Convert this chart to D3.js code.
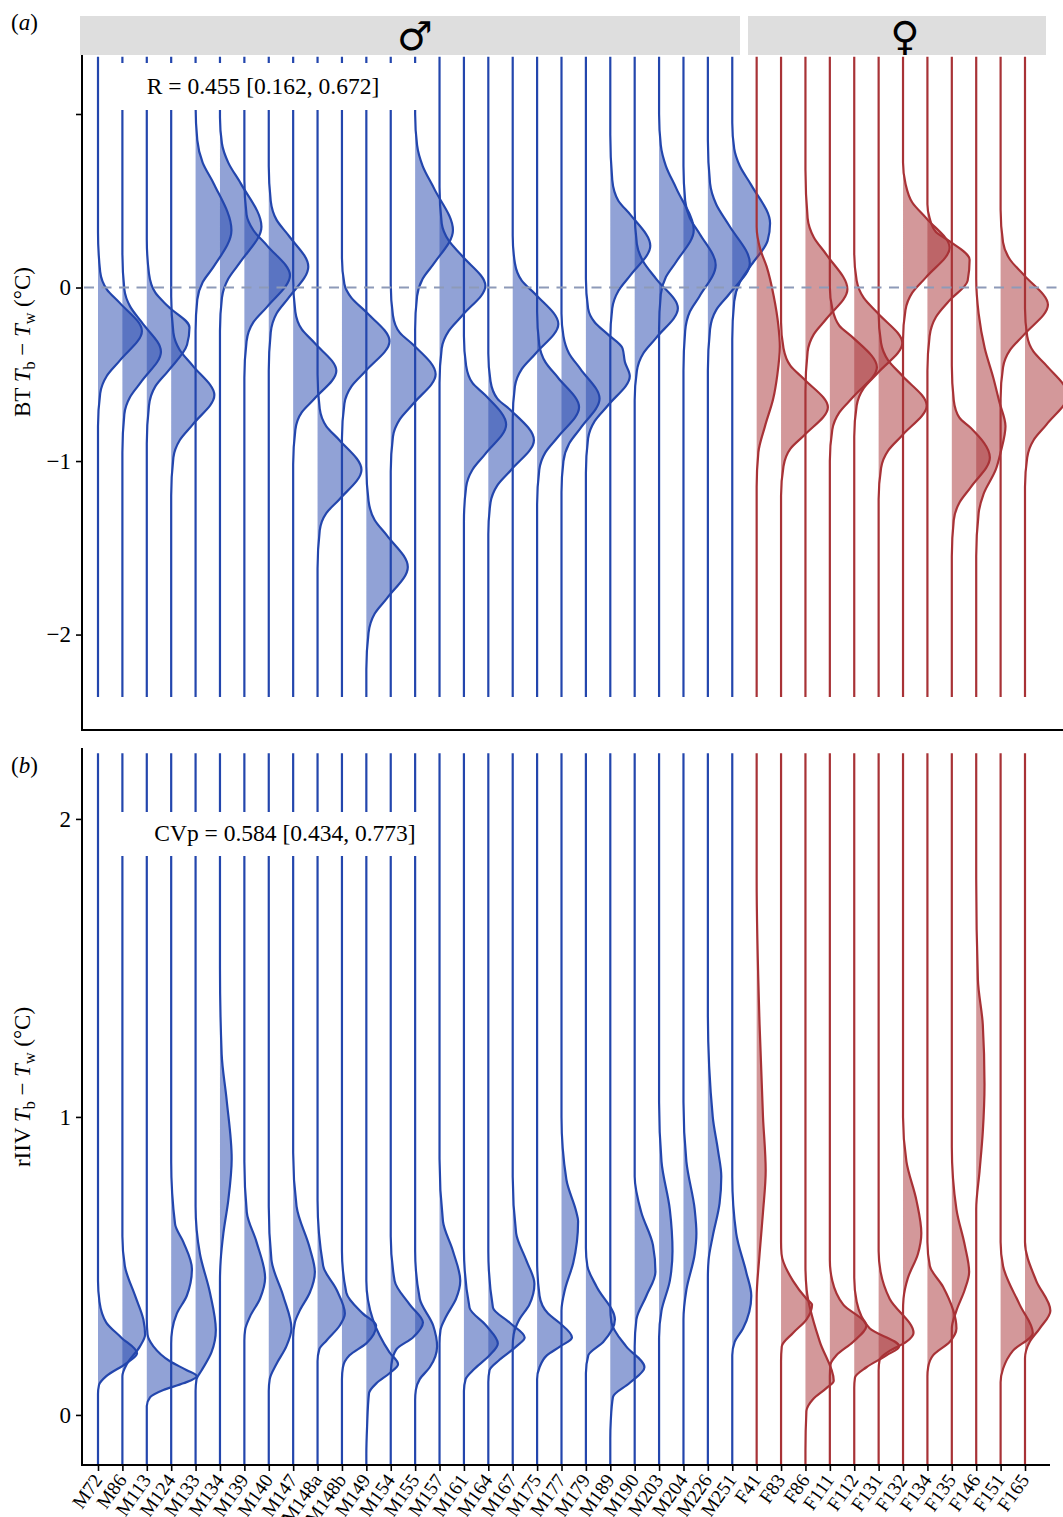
<!DOCTYPE html>
<html>
<head>
<meta charset="utf-8">
<script src="https://cdn.jsdelivr.net/npm/d3@7"></script>
<style>
  body { margin: 0; background: #fff; }
  svg { display: block; }
  text { font-family: "Liberation Serif", "Times New Roman", serif; fill: #000; }
</style>
</head>
<body>
<script>
// individuals, left to right
const males = ["M72","M86","M113","M124","M133","M134","M139","M140","M147","M148a","M148b","M149",
  "M154","M155","M157","M161","M164","M167","M175","M177","M179","M189","M190","M203","M204","M226","M251"];
const females = ["F41","F83","F86","F111","F112","F131","F132","F134","F135","F146","F151","F165"];
const individuals = males.concat(females);

// (a) BT Tb - Tw : density outline per individual, [value, density]
const btDens = [
  [[0.32,0],[0.09,0.09],[-0.01,0.36],[-0.09,0.9],[-0.25,1.8],[-0.42,0.9],[-0.51,0.36],[-0.61,0.09],[-0.8,0]],
  [[0.2,0],[-0.01,0.08],[-0.11,0.32],[-0.2,0.79],[-0.37,1.58],[-0.54,0.79],[-0.63,0.32],[-0.73,0.08],[-0.95,0]],
  [[0.28,0],[0.08,0.09],[-0.03,0.35],[-0.11,0.88],[-0.23,1.75],[-0.33,1.65],[-0.48,0.88],[-0.57,0.35],[-0.68,0.09],[-0.9,0]],
  [[-0.05,0],[-0.26,0.09],[-0.36,0.35],[-0.45,0.88],[-0.62,1.77],[-0.79,0.88],[-0.88,0.35],[-0.98,0.09],[-1.2,0]],
  [[1.05,0],[0.85,0.07],[0.72,0.29],[0.6,0.74],[0.33,1.47],[0.12,0.74],[0.03,0.29],[-0.07,0.07],[-0.25,0]],
  [[0.98,0],[0.83,0.08],[0.72,0.34],[0.6,0.85],[0.35,1.7],[0.15,0.85],[0.05,0.34],[-0.06,0.08],[-0.25,0]],
  [[0.62,0],[0.42,0.09],[0.33,0.37],[0.24,0.94],[0.07,1.87],[-0.11,0.94],[-0.2,0.37],[-0.31,0.09],[-0.52,0]],
  [[0.7,0],[0.5,0.08],[0.39,0.32],[0.3,0.81],[0.12,1.62],[-0.06,0.81],[-0.15,0.32],[-0.26,0.08],[-0.48,0]],
  [[0.05,0],[-0.14,0.09],[-0.24,0.35],[-0.32,0.88],[-0.48,1.77],[-0.64,0.88],[-0.72,0.35],[-0.82,0.09],[-1.02,0]],
  [[-0.5,0],[-0.7,0.09],[-0.8,0.36],[-0.88,0.9],[-1.05,1.8],[-1.22,0.9],[-1.3,0.36],[-1.4,0.09],[-1.62,0]],
  [[0.17,0],[0.02,0.1],[-0.06,0.39],[-0.14,0.98],[-0.31,1.95],[-0.48,0.98],[-0.57,0.39],[-0.67,0.1],[-0.87,0]],
  [[-1.03,0],[-1.23,0.09],[-1.34,0.34],[-1.43,0.85],[-1.61,1.7],[-1.79,0.85],[-1.88,0.34],[-1.99,0.09],[-2.2,0]],
  [[0.02,0],[-0.16,0.09],[-0.26,0.37],[-0.33,0.92],[-0.5,1.84],[-0.67,0.92],[-0.76,0.37],[-0.86,0.09],[-1.06,0]],
  [[1.0,0],[0.82,0.08],[0.7,0.31],[0.57,0.78],[0.33,1.55],[0.14,0.78],[0.05,0.31],[-0.05,0.08],[-0.24,0]],
  [[0.58,0],[0.37,0.09],[0.27,0.38],[0.18,0.94],[0.01,1.88],[-0.16,0.94],[-0.25,0.38],[-0.35,0.09],[-0.55,0]],
  [[-0.28,0],[-0.45,0.09],[-0.55,0.35],[-0.62,0.87],[-0.79,1.73],[-0.96,0.87],[-1.05,0.35],[-1.15,0.09],[-1.35,0]],
  [[-0.38,0],[-0.54,0.09],[-0.64,0.37],[-0.71,0.94],[-0.88,1.87],[-1.05,0.94],[-1.14,0.37],[-1.24,0.09],[-1.42,0]],
  [[0.3,0],[0.14,0.09],[0.04,0.37],[-0.04,0.94],[-0.21,1.87],[-0.38,0.94],[-0.47,0.37],[-0.57,0.09],[-0.76,0]],
  [[-0.14,0],[-0.33,0.09],[-0.43,0.34],[-0.52,0.86],[-0.69,1.72],[-0.86,0.86],[-0.95,0.34],[-1.05,0.09],[-1.25,0]],
  [[-0.15,0],[-0.28,0.08],[-0.38,0.31],[-0.47,0.78],[-0.64,1.56],[-0.81,0.78],[-0.9,0.31],[-1.0,0.08],[-1.18,0]],
  [[0.05,0],[-0.12,0.09],[-0.2,0.36],[-0.27,0.9],[-0.35,1.5],[-0.43,1.6],[-0.51,1.8],[-0.68,0.9],[-0.77,0.36],[-0.87,0.09],[-1.07,0]],
  [[0.88,0],[0.62,0.08],[0.5,0.33],[0.42,0.82],[0.24,1.64],[0.07,0.82],[-0.02,0.33],[-0.12,0.08],[-0.3,0]],
  [[0.45,0],[0.25,0.09],[0.15,0.35],[0.05,0.88],[-0.12,1.77],[-0.29,0.88],[-0.38,0.35],[-0.48,0.09],[-0.65,0]],
  [[1.0,0],[0.82,0.07],[0.7,0.28],[0.57,0.71],[0.33,1.42],[0.15,0.71],[0.06,0.28],[-0.04,0.07],[-0.24,0]],
  [[0.7,0],[0.5,0.07],[0.4,0.26],[0.31,0.66],[0.13,1.32],[-0.05,0.66],[-0.14,0.26],[-0.25,0.07],[-0.48,0]],
  [[0.85,0],[0.6,0.09],[0.48,0.34],[0.36,0.86],[0.14,1.72],[-0.04,0.86],[-0.13,0.34],[-0.24,0.09],[-0.48,0]],
  [[0.95,0],[0.8,0.08],[0.7,0.31],[0.59,0.78],[0.37,1.55],[0.27,1.45],[0.13,0.78],[0.03,0.31],[-0.08,0.08],[-0.3,0]],
  [[0.35,0],[0.22,0.15],[0.12,0.41],[-0.05,0.7],[-0.22,0.89],[-0.34,0.95],[-0.5,0.85],[-0.64,0.68],[-0.8,0.34],[-0.95,0.07],[-1.15,0]],
  [[-0.2,0],[-0.35,0.1],[-0.45,0.38],[-0.53,0.96],[-0.69,1.92],[-0.85,0.96],[-0.93,0.38],[-1.03,0.1],[-1.2,0]],
  [[0.68,0],[0.4,0.09],[0.29,0.34],[0.19,0.86],[-0.01,1.72],[-0.18,0.86],[-0.27,0.34],[-0.37,0.09],[-0.6,0]],
  [[0.0,0],[-0.12,0.1],[-0.22,0.39],[-0.29,0.96],[-0.46,1.93],[-0.63,0.96],[-0.72,0.39],[-0.82,0.1],[-1.0,0]],
  [[0.2,0],[0.04,0.1],[-0.06,0.39],[-0.15,0.98],[-0.32,1.97],[-0.49,0.98],[-0.58,0.39],[-0.68,0.1],[-0.86,0]],
  [[-0.15,0],[-0.32,0.1],[-0.42,0.39],[-0.51,0.98],[-0.68,1.97],[-0.85,0.98],[-0.94,0.39],[-1.04,0.1],[-1.22,0]],
  [[0.72,0],[0.6,0.1],[0.49,0.38],[0.4,0.95],[0.23,1.91],[0.06,0.95],[-0.03,0.38],[-0.13,0.1],[-0.3,0]],
  [[0.48,0],[0.4,0.09],[0.32,0.35],[0.27,0.87],[0.16,1.73],[0.04,1.65],[-0.08,0.87],[-0.17,0.35],[-0.28,0.09],[-0.48,0]],
  [[-0.45,0],[-0.65,0.08],[-0.75,0.31],[-0.81,0.78],[-0.98,1.56],[-1.15,0.78],[-1.24,0.31],[-1.34,0.08],[-1.55,0]],
  [[0.05,0],[-0.15,0.1],[-0.35,0.35],[-0.52,0.7],[-0.66,0.95],[-0.8,1.2],[-0.95,1.0],[-1.05,0.8],[-1.19,0.3],[-1.3,0.1],[-1.55,0]],
  [[0.45,0],[0.26,0.1],[0.16,0.39],[0.07,0.97],[-0.1,1.94],[-0.27,0.97],[-0.36,0.39],[-0.46,0.1],[-0.64,0]],
  [[-0.12,0],[-0.28,0.09],[-0.37,0.35],[-0.45,0.88],[-0.62,1.75],[-0.79,0.88],[-0.88,0.35],[-0.98,0.09],[-1.15,0]]
];

// (b) rIIV Tb - Tw
const riivDens = [
  [[0.45,0],[0.38,0.06],[0.31,0.34],[0.26,0.95],[0.207,1.6],[0.173,1.16],[0.13,0.34],[0.1,0.04],[0.07,0]],
  [[0.6,0],[0.5,0.1],[0.4,0.52],[0.32,0.86],[0.27,0.93],[0.23,0.72],[0.17,0.18],[0.13,0]],
  [[0.32,0],[0.27,0.03],[0.23,0.27],[0.18,0.95],[0.15,1.64],[0.13,2.05],[0.106,1.5],[0.084,0.68],[0.06,0.14],[0.03,0]],
  [[0.85,0],[0.64,0.16],[0.58,0.5],[0.49,0.85],[0.4,0.64],[0.34,0.23],[0.285,0.04],[0.24,0]],
  [[0.7,0],[0.54,0.18],[0.41,0.59],[0.285,0.83],[0.21,0.65],[0.15,0.25],[0.12,0.04],[0.08,0]],
  [[1.5,0],[1.21,0.07],[1.06,0.27],[0.86,0.48],[0.72,0.34],[0.61,0.14],[0.52,0.03],[0.45,0]],
  [[0.85,0],[0.68,0.1],[0.58,0.5],[0.46,0.85],[0.39,0.64],[0.33,0.23],[0.285,0.03],[0.25,0]],
  [[0.7,0],[0.52,0.11],[0.4,0.59],[0.29,0.93],[0.23,0.72],[0.17,0.31],[0.12,0.04],[0.08,0]],
  [[0.88,0],[0.7,0.14],[0.56,0.68],[0.48,0.89],[0.41,0.68],[0.35,0.27],[0.31,0.07],[0.26,0]],
  [[0.72,0],[0.5,0.23],[0.42,0.78],[0.34,1.12],[0.3,0.91],[0.25,0.37],[0.22,0.07],[0.18,0]],
  [[0.55,0],[0.41,0.18],[0.34,0.86],[0.3,1.4],[0.24,1.0],[0.2,0.31],[0.16,0.04],[0.12,0]],
  [[0.45,0],[0.32,0.27],[0.21,0.95],[0.17,1.3],[0.14,0.95],[0.106,0.41],[0.073,0.11],[-0.04,0.03],[-0.13,0]],
  [[0.6,0],[0.45,0.16],[0.37,0.78],[0.31,1.32],[0.26,0.91],[0.22,0.23],[0.17,0.03],[0.13,0]],
  [[0.55,0],[0.39,0.19],[0.3,0.74],[0.23,0.9],[0.16,0.6],[0.12,0.19],[0.084,0.03],[0.05,0]],
  [[0.86,0],[0.65,0.14],[0.55,0.55],[0.45,0.85],[0.39,0.68],[0.33,0.27],[0.285,0.04],[0.24,0]],
  [[0.56,0],[0.36,0.23],[0.3,0.91],[0.24,1.39],[0.2,1.05],[0.15,0.37],[0.12,0.07],[0.08,0]],
  [[0.55,0],[0.36,0.19],[0.31,0.87],[0.26,1.49],[0.23,1.15],[0.185,0.46],[0.15,0.05],[0.11,0]],
  [[0.8,0],[0.61,0.14],[0.52,0.55],[0.44,0.89],[0.37,0.68],[0.32,0.27],[0.27,0.04],[0.23,0]],
  [[0.52,0],[0.4,0.1],[0.34,0.45],[0.31,0.9],[0.26,1.43],[0.23,0.95],[0.2,0.4],[0.16,0.1],[0.12,0]],
  [[1.0,0],[0.79,0.2],[0.68,0.61],[0.65,0.68],[0.51,0.48],[0.42,0.14],[0.35,0]],
  [[0.56,0],[0.5,0.06],[0.43,0.44],[0.32,1.19],[0.245,0.71],[0.2,0.1],[0.14,0]],
  [[0.36,0],[0.31,0.05],[0.23,0.65],[0.16,1.4],[0.107,0.79],[0.06,0.11],[-0.02,0.02],[-0.08,0]],
  [[0.8,0],[0.68,0.27],[0.57,0.75],[0.48,0.85],[0.4,0.48],[0.32,0.07],[0.23,0]],
  [[1.05,0],[0.85,0.1],[0.69,0.44],[0.55,0.55],[0.45,0.44],[0.35,0.1],[0.26,0]],
  [[1.05,0],[0.85,0.12],[0.69,0.46],[0.61,0.53],[0.54,0.46],[0.42,0.12],[0.32,0]],
  [[1.35,0],[1.0,0.2],[0.89,0.41],[0.8,0.55],[0.71,0.48],[0.6,0.2],[0.52,0.03],[0.46,0]],
  [[0.8,0],[0.61,0.16],[0.48,0.57],[0.4,0.78],[0.29,0.44],[0.245,0.1],[0.2,0]],
  [[1.8,0],[1.31,0.12],[1.0,0.26],[0.82,0.37],[0.68,0.26],[0.54,0.12],[0.39,0]],
  [[0.58,0],[0.54,0.02],[0.45,0.49],[0.39,1.04],[0.37,1.27],[0.32,1.04],[0.275,0.49],[0.23,0.03],[0.18,0]],
  [[0.5,0],[0.42,0.05],[0.245,0.59],[0.115,1.16],[0.09,0.86],[0.053,0.31],[0.013,0.04],[-0.12,0]],
  [[0.52,0],[0.45,0.1],[0.37,0.55],[0.3,1.5],[0.245,0.95],[0.2,0.27],[0.17,0.03],[0.13,0]],
  [[0.46,0],[0.38,0.1],[0.29,0.64],[0.23,1.84],[0.2,1.32],[0.16,0.5],[0.125,0.03],[0.09,0]],
  [[0.55,0],[0.48,0.08],[0.39,0.45],[0.275,1.43],[0.245,1.13],[0.215,0.45],[0.185,0.04],[0.15,0]],
  [[1.0,0],[0.85,0.14],[0.72,0.55],[0.61,0.75],[0.54,0.61],[0.46,0.2],[0.39,0.02],[0.35,0]],
  [[0.58,0],[0.5,0.1],[0.43,0.64],[0.29,1.19],[0.245,0.91],[0.2,0.23],[0.16,0.03],[0.13,0]],
  [[0.9,0],[0.69,0.19],[0.57,0.53],[0.48,0.71],[0.42,0.53],[0.35,0.19],[0.29,0]],
  [[1.8,0],[1.46,0.07],[1.31,0.27],[1.11,0.34],[0.95,0.27],[0.82,0.14],[0.69,0]],
  [[0.58,0],[0.5,0.1],[0.37,0.78],[0.275,1.32],[0.215,0.5],[0.155,0.1],[0.11,0]],
  [[0.58,0],[0.45,0.46],[0.35,1.04],[0.29,0.6],[0.245,0.19],[0.19,0]]
];

const btTicks = [-2, -1, 0, 1];
const btTickLabels = ["\u22122", "\u22121", "0", ""];
const riivTicks = [0, 1, 2];
const riivTickLabels = ["0", "1", "2"];
const btRange = [-2.36, 1.33];      // common range of the density estimates
const riivRange = [-0.168, 2.22];
const btNote = "R = 0.455 [0.162, 0.672]";
const riivNote = "CVp = 0.584 [0.434, 0.773]";

const width = 1063, height = 1517;
const blue = "#2346ad", red = "#a83236";
const colour = id => id[0] === "M" ? blue : red;

const svg = d3.select("body").append("svg")
  .attr("width", width).attr("height", height);

const x = d3.scalePoint().domain(individuals).range([98, 1025]);
const dens = d3.scaleLinear().domain([0, 1]).range([0, x.step()]);

// facet strips
svg.append("rect").attr("x", 80).attr("y", 16).attr("width", 660).attr("height", 39).attr("fill", "#dedede");
svg.append("rect").attr("x", 748).attr("y", 16).attr("width", 298).attr("height", 39).attr("fill", "#dedede");
svg.append("text").attr("x", 415).attr("y", 36).attr("text-anchor", "middle")
  .attr("dominant-baseline", "central").style("font-family", "DejaVu Sans").attr("font-size", 40).text("\u2642");
svg.append("text").attr("x", 905).attr("y", 36).attr("text-anchor", "middle")
  .attr("dominant-baseline", "central").style("font-family", "DejaVu Sans").attr("font-size", 40).text("\u2640");

function yTitle(cx, cy, prefix) {
  const t = svg.append("text").attr("transform", `translate(${cx},${cy}) rotate(-90)`)
    .attr("text-anchor", "middle").attr("font-size", 23);
  t.append("tspan").text(prefix + " ");
  t.append("tspan").attr("font-style", "italic").text("T");
  t.append("tspan").attr("font-size", 16).attr("dy", 5).text("b");
  t.append("tspan").attr("dy", -5).text(" \u2212 ");
  t.append("tspan").attr("font-style", "italic").text("T");
  t.append("tspan").attr("font-size", 16).attr("dy", 5).text("w");
  t.append("tspan").attr("dy", -5).text(" (\u00B0C)");
}

function panelLabel(px, py, letter) {
  const t = svg.append("text").attr("x", px).attr("y", py).attr("font-size", 23);
  t.append("tspan").text("(");
  t.append("tspan").attr("font-style", "italic").text(letter);
  t.append("tspan").text(")");
}

function drawPanel(p) {
  const y = p.y;
  const g = svg.append("g");

  individuals.forEach((id, i) => {
    const pts = [[p.range[1], 0]].concat(p.dens[i], [[p.range[0], 0]]);
    const x0 = x(id);
    const area = d3.area().curve(d3.curveMonotoneY)
      .y(d => y(d[0])).x0(x0).x1(d => x0 + dens(d[1]));
    const line = d3.line().curve(d3.curveMonotoneY)
      .x(d => x0 + dens(d[1])).y(d => y(d[0]));
    g.append("path").attr("d", area(pts)).attr("fill", colour(id)).attr("fill-opacity", 0.5);
    g.append("path").attr("d", line(pts)).attr("fill", "none")
      .attr("stroke", colour(id)).attr("stroke-width", 2.2);
  });

  if (p.zero) {
    svg.append("line").attr("x1", 84).attr("x2", width).attr("y1", y(0)).attr("y2", y(0))
      .attr("stroke", "#8d9ab8").attr("stroke-width", 2).attr("stroke-dasharray", "10,7.5");
  }

  // annotation label with white background
  svg.append("rect").attr("x", 108).attr("y", p.box[0]).attr("width", 320).attr("height", p.box[1] - p.box[0])
    .attr("fill", "#fff");
  svg.append("text").attr("x", p.noteX).attr("y", p.noteY).attr("text-anchor", "middle")
    .attr("font-size", 23.5).text(p.note);

  // y axis
  const ya = svg.append("g").attr("transform", "translate(82,0)")
    .call(d3.axisLeft(y).tickValues(p.ticks).tickSize(6).tickSizeOuter(0).tickPadding(5)
      .tickFormat((d, i) => p.tickLabels[i]));
  ya.select(".domain").remove();
  ya.selectAll(".tick line").attr("stroke", "#000").attr("stroke-width", 1.6);
  ya.selectAll(".tick text").attr("font-size", 23).style("font-family", "Liberation Serif");
  svg.append("line").attr("x1", 82).attr("x2", 82).attr("y1", y.range()[1]).attr("y2", y.range()[0] + 1)
    .attr("stroke", "#000").attr("stroke-width", 2);
  svg.append("line").attr("x1", 81).attr("x2", p.axisEnd).attr("y1", y.range()[0]).attr("y2", y.range()[0])
    .attr("stroke", "#000").attr("stroke-width", 2);
}

drawPanel({
  y: d3.scaleLinear().domain([-2.55, 1.34]).range([730, 55]),
  dens: btDens, range: btRange, ticks: btTicks, tickLabels: btTickLabels,
  zero: true, box: [63, 110], note: btNote, noteX: 263, noteY: 94, axisEnd: width
});
drawPanel({
  y: d3.scaleLinear().domain([-0.168, 2.238]).range([1465, 748]),
  dens: riivDens, range: riivRange, ticks: riivTicks, tickLabels: riivTickLabels,
  zero: false, box: [812, 856], note: riivNote, noteX: 285, noteY: 841, axisEnd: 1050
});

// x axis of the lower panel
const xa = svg.append("g").attr("transform", "translate(0,1465)")
  .call(d3.axisBottom(x).tickSize(6).tickSizeOuter(0));
xa.select(".domain").remove();
xa.selectAll(".tick line").attr("stroke", "#000").attr("stroke-width", 1.6);
xa.selectAll(".tick text")
  .attr("x", 0).attr("y", 0).attr("dy", "0.35em")
  .attr("text-anchor", "end")
  .attr("transform", "translate(-1,11) rotate(-55)")
  .attr("font-size", 19.5).style("font-family", "Liberation Serif");

yTitle(30, 342, "BT");
yTitle(30, 1087, "rIIV");
panelLabel(11, 30, "a");
panelLabel(11, 773, "b");
</script>
</body>
</html>
